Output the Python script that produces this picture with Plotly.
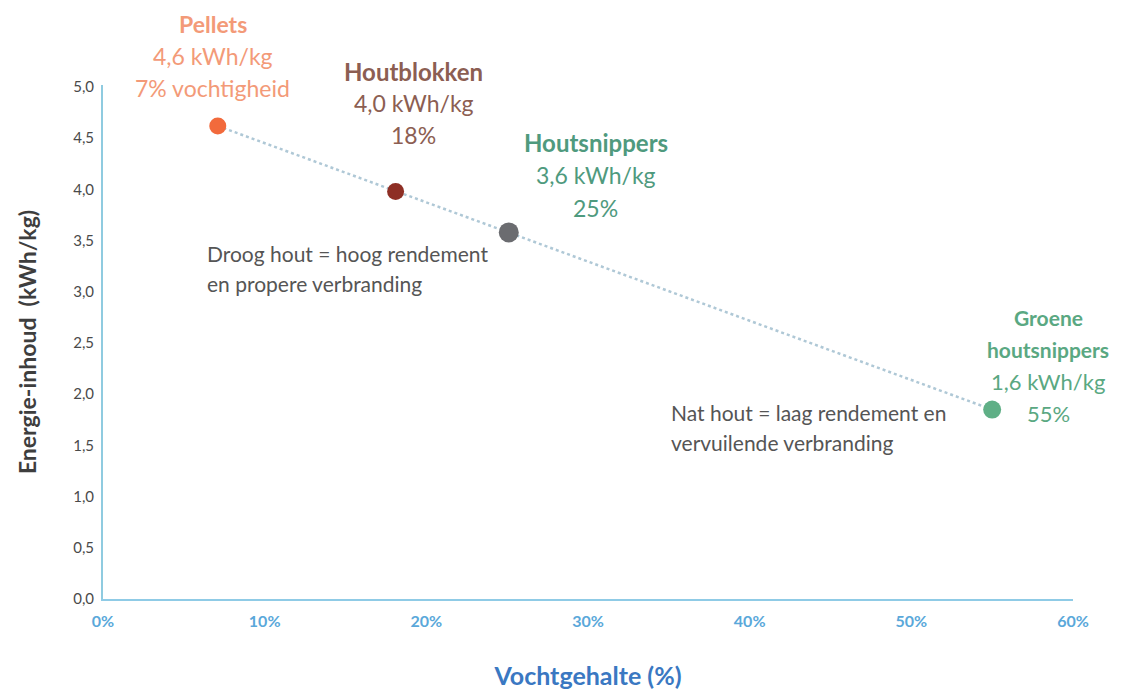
import plotly.graph_objects as go

# Data
names = ["Pellets", "Houtblokken", "Houtsnippers", "Groene<br>houtsnippers"]
moisture = [7.1, 18.1, 25.1, 55.0]          # Vochtgehalte (%)
energy = [4.62, 3.98, 3.58, 1.85]            # plotted position (kWh/kg)
energy_labels = ["4,6 kWh/kg", "4,0 kWh/kg", "3,6 kWh/kg", "1,6 kWh/kg"]
moisture_labels = ["7% vochtigheid", "18%", "25%", "55%"]
marker_colors = ["#F26A3C", "#8E2F25", "#6B6C70", "#5FAF86"]
label_colors = ["#F39A78", "#8C5E52", "#4F9A7E", "#5AA882"]
x_ticks = [0, 10, 20, 30, 40, 50, 60]
y_ticks = [0, 0.5, 1.0, 1.5, 2.0, 2.5, 3.0, 3.5, 4.0, 4.5, 5.0]

FONT = "Lato"

fig = go.Figure()

# dotted trend line from first to last point
fig.add_trace(go.Scatter(
    x=[moisture[0], moisture[-1]], y=[energy[0], energy[-1]],
    mode="lines", line=dict(color="#AFC8D6", width=2.5, dash="dot"),
    hoverinfo="skip", showlegend=False))

fig.add_trace(go.Scatter(
    x=moisture, y=energy, mode="markers",
    marker=dict(size=[17, 17, 20, 18], color=marker_colors, opacity=1,
                line=dict(width=0)),
    showlegend=False))

annotations = []
# label offsets in pixels relative to each point (xshift, first-line yshift, spacing)
offsets = [(-5, 102, 32), (18, 120, 32), (87, 90, 33), (56, 92, 32)]
name_sizes = [23, 24, 24, 21]
value_sizes = [23, 23, 23, 22]
for i in range(len(names)):
    xs, ys, sp = offsets[i]
    lines = names[i].split("<br>")
    parts = [(l, True) for l in lines] + [(energy_labels[i], False), (moisture_labels[i], False)]
    for j, (t, bold) in enumerate(parts):
        annotations.append(dict(
            x=moisture[i], y=energy[i], xref="x", yref="y",
            text=f"<b>{t}</b>" if bold else t,
            showarrow=False, xanchor="center", yanchor="middle",
            xshift=xs, yshift=ys - sp * j,
            font=dict(family=FONT, size=name_sizes[i] if bold else value_sizes[i],
                      color=label_colors[i])))

notes = [
    (["Droog hout = hoog rendement", "en propere verbranding"], 1, -62),
    (["Nat hout = laag rendement en", "vervuilende verbranding"], 3, -3),
]
note_x = [6.3, 35.0]
for k, (lines, idx, ys) in enumerate(notes):
    for j, t in enumerate(lines):
        annotations.append(dict(
            x=note_x[k], y=energy[idx], xref="x", yref="y",
            text=t, showarrow=False, xanchor="left", yanchor="middle",
            yshift=ys - 30 * j,
            font=dict(family=FONT, size=21, color="#555555")))

fig.update_layout(
    width=1125, height=690,
    margin=dict(l=95, r=60, t=77, b=99),
    paper_bgcolor="white", plot_bgcolor="white",
    separators=", ",
    font=dict(family=FONT),
    annotations=annotations,
    xaxis=dict(
        range=[0, 60], tickvals=x_ticks,
        ticktext=[f"<b>{v}%</b>" for v in x_ticks],
        showgrid=False, zeroline=False, automargin=False,
        showline=True, linecolor="#8FCBE6", linewidth=2,
        tickfont=dict(family=FONT, size=16, color="#5AA8DA"),
        ticks="", ticklabelstandoff=7,
        title=dict(text="<b>Vochtgehalte (%)</b>", standoff=38,
                   font=dict(family=FONT, size=25, color="#3A78C2")),
    ),
    yaxis=dict(
        range=[0, 5.02], tickvals=y_ticks, tickformat=".1f",
        showgrid=False, zeroline=False, automargin=False,
        showline=True, linecolor="#8FCBE0", linewidth=2,
        tickfont=dict(family=FONT, size=15, color="#4A4A4A"),
        ticks="", ticklabelstandoff=4,
        title=dict(text="<b>Energie-inhoud  (kWh/kg)</b>", standoff=30,
                   font=dict(family=FONT, size=23, color="#3E3E3E")),
    ),
)

fig.write_html("out.html")
